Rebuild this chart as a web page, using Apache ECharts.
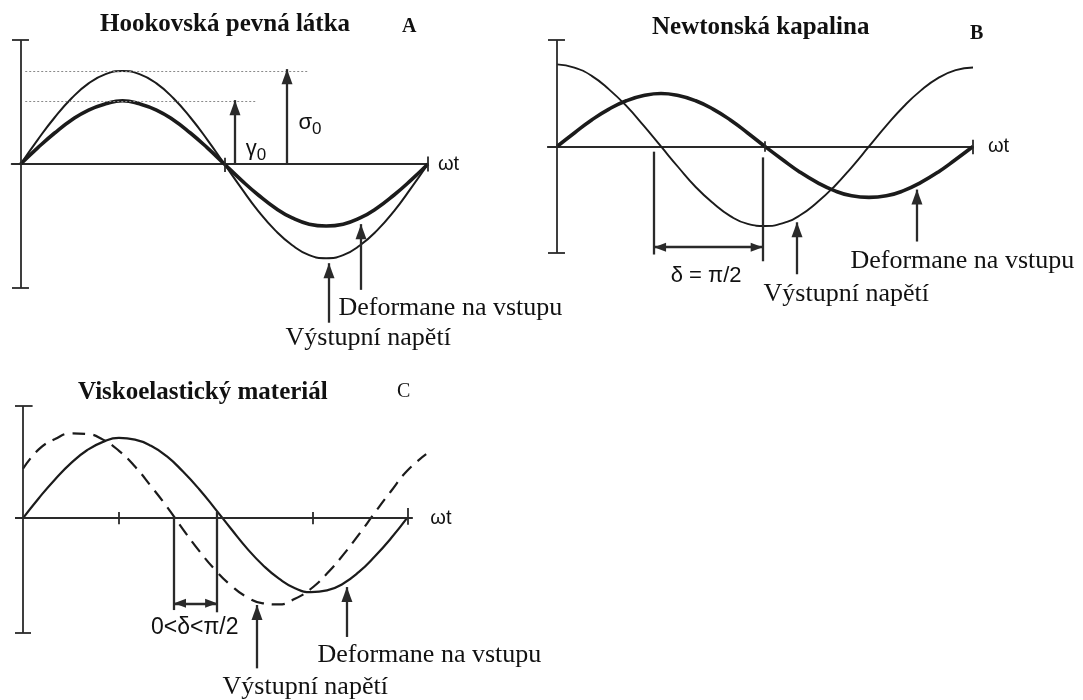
<!DOCTYPE html>
<html>
<head>
<meta charset="utf-8">
<script src="https://cdn.jsdelivr.net/npm/echarts@6/dist/echarts.min.js"></script>
<style>
  html, body { margin: 0; padding: 0; background: #ffffff; }
  #chart { width: 1083px; height: 700px; }
</style>
</head>
<body>
<div id="chart"></div>
<script>
// ---------- data ----------
// phase angle ωt in degrees
const phase  = [0,15,30,45,60,75,90,105,120,135,150,165,180,195,210,225,240,255,270,285,300,315,330,345,360];
const phaseC = [0,15,30,45,60,75,90,105,120,135,150,165,180,195,210,225,240,255,270,285,300,315,330,345,360,378];

// A: Hookean solid – stress and strain in phase
const strainA = [0,0.26,0.5,0.71,0.87,0.97,1.02,0.97,0.87,0.71,0.5,0.26,0,-0.26,-0.5,-0.71,-0.87,-0.97,-1.0,-0.97,-0.87,-0.71,-0.5,-0.26,0];
const stressA = [0,0.39,0.75,1.06,1.3,1.45,1.5,1.45,1.3,1.06,0.75,0.39,0,-0.39,-0.76,-1.07,-1.31,-1.47,-1.52,-1.47,-1.31,-1.07,-0.76,-0.39,0];
const amplitudeA = [1.02, 1.5];          // γ0, σ0

// B: Newtonian liquid – stress leads strain by π/2
const strainB = [0,0.26,0.51,0.72,0.88,0.98,1.02,0.98,0.88,0.72,0.51,0.26,0,-0.25,-0.49,-0.69,-0.85,-0.95,-0.98,-0.95,-0.85,-0.69,-0.49,-0.25,0];
const stressB = [1.58,1.52,1.36,1.1,0.78,0.4,0,-0.4,-0.78,-1.09,-1.34,-1.49,-1.53,-1.48,-1.33,-1.08,-0.77,-0.4,0,0.4,0.77,1.08,1.32,1.47,1.52];

// C: viscoelastic material – 0 < δ < π/2
const strainC = [0,0.36,0.69,0.98,1.21,1.36,1.43,1.4,1.29,1.1,0.83,0.52,0.17,-0.19,-0.54,-0.84,-1.08,-1.25,-1.32,-1.29,-1.17,-0.96,-0.68,-0.36,0];
const stressC = [0.88,1.23,1.41,1.51,1.5,1.4,1.2,0.92,0.57,0.2,-0.2,-0.58,-0.92,-1.2,-1.41,-1.52,-1.54,-1.44,-1.26,-0.99,-0.66,-0.29,0.1,0.48,0.84,1.14];

// texts
const panelTitles  = ['Hookovská pevná látka', 'Newtonská kapalina', 'Viskoelastický materiál'];
const panelLetters = ['A', 'B', 'C'];
const axisName     = 'ωt';
const noteStrain   = 'Deformane na vstupu';
const noteStress   = 'Výstupní napětí';
const deltaLabels  = ['δ = π/2', '0<δ<π/2'];
const ampSymbols   = [['γ', '0'], ['σ', '0']];

// ---------- styling / layout ----------
const INK = '#1b1b1b';
const AXIS = '#2a2a2a';
const TEXT = '#111111';
const SERIF = '"Liberation Serif", "Times New Roman", serif';
const SANS = '"Liberation Sans", Arial, sans-serif';

// panel C's x range is wider than its drawn axis so the dashed curve can run past it
const panels = [
  { grid: { left: 11.65, top: 40, width: 416.35, height: 310 }, x: [-8, 360],   y: [-3.0, 2.0],  nameGap: 10, line: true },
  { grid: { left: 547.76, top: 40, width: 425.24, height: 262.3 }, x: [-8, 360], y: [-3.0, 2.05], nameGap: 15, line: true },
  { grid: { left: 15, top: 406, width: 413.3, height: 291.5 }, x: [-7.5, 380],  y: [-3.2, 2.0],  nameGap: 2,  line: false }
];

// helpers for annotation segments (data coordinates)
function seg(x1, y1, x2, y2) { return [{ coord: [x1, y1] }, { coord: [x2, y2] }]; }
function head(size) { return { symbol: 'triangle', symbolSize: size, symbolOffset: [0, '50%'] }; }
function arrowUp(x, y0, y1) {
  return [{ coord: [x, y0] }, Object.assign({ coord: [x, y1] }, head([11, 15]))];
}
function arrowBoth(y, x0, x1) {
  return [Object.assign({ coord: [x0, y] }, head([9, 12])), Object.assign({ coord: [x1, y] }, head([9, 12]))];
}
function pairs(xs, ys) { return ys.map((v, i) => [xs[i], v]); }

function markSet(data, style) {
  return {
    silent: true, animation: false,
    symbol: ['none', 'none'],
    label: { show: false },
    emphasis: { disabled: true },
    lineStyle: Object.assign({ color: AXIS, width: 1.8, type: 'solid' }, style),
    data: data
  };
}

function curve(idx, name, data, style) {
  return {
    type: 'line', name: name, xAxisIndex: idx, yAxisIndex: idx,
    data: data, smooth: true, symbol: 'none', showSymbol: false,
    clip: false, silent: true, animation: false,
    lineStyle: Object.assign({ color: INK }, style)
  };
}

function notes(idx, items, arrowMarks) {
  return {
    type: 'scatter', xAxisIndex: idx, yAxisIndex: idx,
    symbolSize: 1, itemStyle: { color: 'transparent', opacity: 1 },
    clip: false, silent: true, animation: false,
    label: { show: true, position: 'right', distance: 0, color: TEXT, opacity: 1,
             fontFamily: SERIF, fontSize: 26, formatter: '{b}' },
    data: items,
    markLine: markSet(arrowMarks, { width: 2.3 })
  };
}

function ampLabel(sym, pos) {
  return {
    name: sym.join(''), value: pos,
    label: {
      position: 'inside',
      formatter: '{g|' + sym[0] + '}{s|' + sym[1] + '}',
      rich: {
        g: { fontFamily: SANS, fontSize: 22, color: TEXT },
        s: { fontFamily: SANS, fontSize: 17, color: TEXT, padding: [12, 0, 0, 0] }
      }
    }
  };
}
function centerLabel(text, pos) {
  return { name: text, value: pos, label: { position: 'inside', fontFamily: SANS, fontSize: 22 } };
}
function leftLabel(text, pos) {
  return { name: text, value: pos };
}

// ---------- axes ----------
const grids = panels.map(p => Object.assign({ containLabel: false }, p.grid));
const xAxes = panels.map((p, i) => ({
  type: 'value', gridIndex: i, min: p.x[0], max: p.x[1],
  name: axisName, nameLocation: 'end', nameGap: p.nameGap,
  nameTextStyle: { fontFamily: SANS, fontSize: 20, color: TEXT },
  axisLine: { show: p.line, onZero: true, lineStyle: { color: AXIS, width: 1.8 } },
  axisTick: { show: false }, axisLabel: { show: false }, splitLine: { show: false }
}));
const yAxes = panels.map((p, i) => ({
  type: 'value', gridIndex: i, min: p.y[0], max: p.y[1], show: false
}));

// ---------- series ----------
const series = [
  // A – Hookean solid
  Object.assign(curve(0, 'stressA', pairs(phase, stressA), { width: 2 }), {
    markLine: markSet([
      seg(4, amplitudeA[1], 254, amplitudeA[1]),
      seg(4, amplitudeA[0], 209, amplitudeA[0])
    ], { color: '#8a8a8a', width: 1, type: [2, 2] })
  }),
  Object.assign(curve(0, 'strainA', pairs(phase, strainA), { width: 3.6 }), {
    markLine: markSet([
      seg(0, -2, 0, 2), seg(-7.7, 2, 7.3, 2), seg(-7.7, -2, 7.3, -2),
      seg(180, -0.13, 180, 0.1), seg(360, -0.12, 360, 0.12)
    ])
  }),
  notes(0, [
    leftLabel(noteStrain, [280.4, -2.32]),
    leftLabel(noteStress, [233.6, -2.81]),
    ampLabel(ampSymbols[0], [208, 0.24]),
    ampLabel(ampSymbols[1], [255.7, 0.66])
  ], [
    arrowUp(189.4, 0, 1.03), arrowUp(235.4, 0, 1.53),
    arrowUp(272.5, -2.56, -1.6), arrowUp(300.8, -2.03, -0.97)
  ]),

  // B – Newtonian liquid
  curve(1, 'stressB', pairs(phase, stressB), { width: 1.9 }),
  Object.assign(curve(1, 'strainB', pairs(phase, strainB), { width: 3.6 }), {
    markLine: markSet([
      seg(0, -2.05, 0, 2.05), seg(-7.8, 2.05, 6.9, 2.05), seg(-7.8, -2.05, 6.9, -2.05),
      seg(180, -0.1, 180, 0.1), seg(360, -0.15, 360, 0.13)
    ])
  }),
  notes(1, [
    leftLabel(noteStrain, [253.5, -2.21]),
    leftLabel(noteStress, [178.3, -2.85]),
    centerLabel(deltaLabels[0], [129, -2.5])
  ], [
    seg(84, -0.1, 84, -2.08), seg(178, -0.21, 178, -2.21),
    arrowBoth(-1.94, 84, 178),
    arrowUp(207.7, -2.46, -1.46), arrowUp(311.5, -1.83, -0.83)
  ]),

  // C – viscoelastic material
  curve(2, 'stressC', pairs(phaseC, stressC), { width: 2.2, type: [13, 8] }),
  Object.assign(curve(2, 'strainC', pairs(phase, strainC), { width: 2.2 }), {
    markLine: markSet([
      seg(-7.5, 0, 365.5, 0),
      seg(0, -2.05, 0, 2.0), seg(-7.5, 2.0, 9, 2.0), seg(-7.5, -2.05, 7.5, -2.05),
      seg(90, -0.11, 90, 0.11), seg(272, -0.11, 272, 0.11), seg(361, -0.12, 361, 0.18)
    ])
  }),
  notes(2, [
    leftLabel(noteStrain, [275.6, -2.45]),
    leftLabel(noteStress, [186.6, -3.02]),
    Object.assign(centerLabel(deltaLabels[1], [161, -1.96]), {})
  ], [
    seg(141.6, 0, 141.6, -1.64), seg(182, 0.11, 182, -1.68),
    arrowBoth(-1.52, 141.6, 182),
    arrowUp(219.4, -2.68, -1.55), arrowUp(303.7, -2.12, -1.23)
  ])
];
// the 0<δ<π/2 label is set a little larger than δ = π/2
series[8].data[2].label.fontSize = 23;

// ---------- titles ----------
const titleStyle = { fontFamily: SERIF, fontWeight: 'bold', fontSize: 25, color: TEXT };
const letterStyle = { fontFamily: SERIF, fontWeight: 'bold', fontSize: 20, color: TEXT };
const titles = [
  { text: panelTitles[0], left: 100, top: 12, padding: 0, textStyle: titleStyle },
  { text: panelLetters[0], left: 402, top: 17, padding: 0, textStyle: letterStyle },
  { text: panelTitles[1], left: 652, top: 15, padding: 0, textStyle: titleStyle },
  { text: panelLetters[1], left: 970, top: 24, padding: 0, textStyle: letterStyle },
  { text: panelTitles[2], left: 78, top: 380, padding: 0, textStyle: titleStyle },
  { text: panelLetters[2], left: 397, top: 382, padding: 0,
    textStyle: Object.assign({}, letterStyle, { fontWeight: 'normal' }) }
];

const chart = echarts.init(document.getElementById('chart'), null, { renderer: 'canvas' });
chart.setOption({
  backgroundColor: '#ffffff',
  animation: false,
  title: titles,
  grid: grids,
  xAxis: xAxes,
  yAxis: yAxes,
  series: series
});
</script>
</body>
</html>
